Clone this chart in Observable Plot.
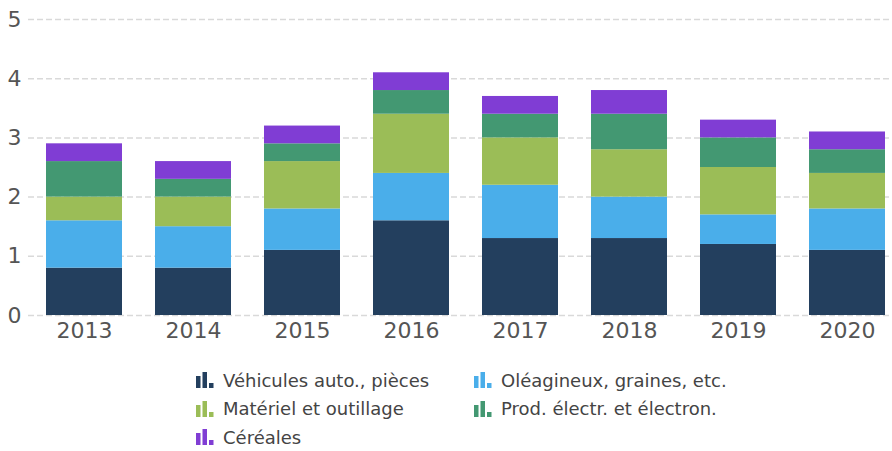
<!DOCTYPE html>
<html>
<head>
<meta charset="utf-8">
<script src="https://cdn.jsdelivr.net/npm/d3@7"></script>
<script src="https://cdn.jsdelivr.net/npm/@observablehq/plot@0.6"></script>
<style>
  body { margin: 0; background: #fff; font-family: "DejaVu Sans", Verdana, sans-serif; }
  #legend { display: grid; grid-template-columns: 278px 300px; margin-left: 196px; padding-top: 16px; font-size: 18px; color: #444; }
  .item { display: flex; align-items: center; height: 28.5px; white-space: nowrap; }
  .item svg { margin-right: 9px; }
</style>
</head>
<body>
<div id="chart"></div>
<div id="legend"></div>
<script>
const years = ["2013", "2014", "2015", "2016", "2017", "2018", "2019", "2020"];
const seriesNames = ["Véhicules auto., pièces", "Oléagineux, graines, etc.", "Matériel et outillage", "Prod. électr. et électron.", "Céréales"];
const seriesColors = ["#233f5e", "#4aaeea", "#9bbd57", "#439872", "#803dd4"];
const vehicules  = [0.8, 0.8, 1.1, 1.6, 1.3, 1.3, 1.2, 1.1];
const oleagineux = [0.8, 0.7, 0.7, 0.8, 0.9, 0.7, 0.5, 0.7];
const materiel   = [0.4, 0.5, 0.8, 1.0, 0.8, 0.8, 0.8, 0.6];
const electr     = [0.6, 0.3, 0.3, 0.4, 0.4, 0.6, 0.5, 0.4];
const cereales   = [0.3, 0.3, 0.3, 0.3, 0.3, 0.4, 0.3, 0.3];
const yTicks = [0, 1, 2, 3, 4, 5];

const seriesValues = [vehicules, oleagineux, materiel, electr, cereales];
const data = [];
seriesNames.forEach((name, i) => {
  years.forEach((yr, j) => data.push({year: yr, series: name, value: seriesValues[i][j]}));
});

const chart = Plot.plot({
  width: 892,
  height: 350,
  marginLeft: 45,
  marginRight: 6,
  marginTop: 19,
  marginBottom: 35,
  style: {fontFamily: "'DejaVu Sans', Verdana, sans-serif", fontSize: "22px", color: "#555", background: "#fff"},
  x: {domain: years, paddingInner: 0.305, paddingOuter: 0, label: null},
  y: {domain: [0, 5], label: null},
  color: {domain: seriesNames, range: seriesColors},
  marks: [
    Plot.ruleY(yTicks, {stroke: "#d9d9d9", strokeWidth: 1.5, strokeDasharray: "6,3", insetLeft: -17, insetRight: -4}),
    Plot.barY(data, Plot.stackY({x: "year", y: "value", fill: "series", order: seriesNames})),
    Plot.axisX({tickSize: 0, tickPadding: 7, fontSize: 22, fill: "#555"}),
    Plot.axisY({ticks: yTicks, tickFormat: d3.format("d"), tickSize: 0, tickPadding: 24, fontSize: 22, fill: "#555"})
  ]
});
document.getElementById("chart").appendChild(chart);

const legend = document.getElementById("legend");
seriesNames.forEach((name, i) => {
  const c = seriesColors[i];
  const div = document.createElement("div");
  div.className = "item";
  div.innerHTML = `<svg width="18" height="16" viewBox="0 0 18 16"><rect x="0" y="4" width="4.5" height="12" fill="${c}"/><rect x="6.5" y="0" width="4.5" height="16" fill="${c}"/><rect x="13" y="11" width="4.5" height="5" fill="${c}"/></svg><span>${name}</span>`;
  legend.appendChild(div);
});
</script>
</body>
</html>
